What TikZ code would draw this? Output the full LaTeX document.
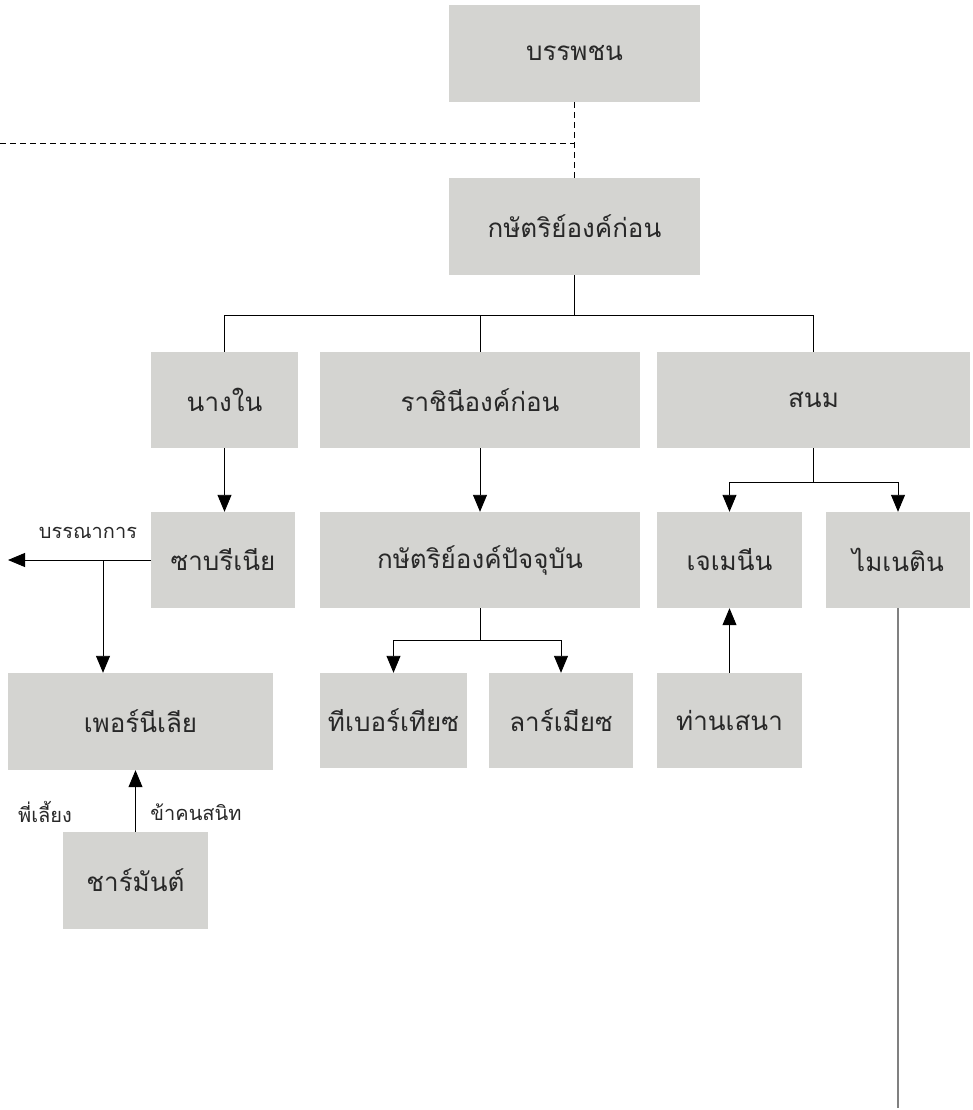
\documentclass[tikz,border=0pt]{standalone}
\usepackage{fontspec}
\setmainfont[Script=Thai]{Loma}
\usetikzlibrary{arrows.meta}
\definecolor{boxfill}{RGB}{212,212,209}
\definecolor{longline}{RGB}{128,128,128}
\definecolor{txt}{RGB}{40,40,40}
\begin{document}
\begin{tikzpicture}[x=1pt,y=1pt,
  box/.style={fill=boxfill,draw=none,inner sep=0pt,text=txt,font=\fontsize{26}{30}\selectfont},
  conn/.style={draw=black,line width=0.9pt},
  arr/.style={conn,-{Triangle[width=14pt,length=17pt]}},
  lbl/.style={inner sep=0pt,text=txt,font=\fontsize{20}{24}\selectfont}]
\useasboundingbox (0,0) rectangle (972,-1110);
% boxes
\node[box,minimum width=251pt,minimum height=97pt] (anc) at (574.5,-53.5) {บรรพชน};
\node[box,minimum width=251pt,minimum height=97pt] (kp) at (574.5,-226.5) {กษัตริย์องค์ก่อน};
\node[box,minimum width=147pt,minimum height=96pt] (nn) at (224.5,-400) {นางใน};
\node[box,minimum width=320pt,minimum height=96pt] (rq) at (480,-400) {ราชินีองค์ก่อน};
\node[box,minimum width=313pt,minimum height=96pt] (sn) at (813.5,-400) {สนม};
\node[box,minimum width=144pt,minimum height=96pt] (sb) at (223,-560) {ซาบรีเนีย};
\node[box,minimum width=320pt,minimum height=96pt] (kc) at (480,-560) {กษัตริย์องค์ปัจจุบัน};
\node[box,minimum width=145pt,minimum height=96pt] (jm) at (729.5,-560) {เจเมนีน};
\node[box,minimum width=144pt,minimum height=96pt] (mn) at (898,-560) {ไมเนติน};
\node[box,minimum width=265pt,minimum height=97pt] (pn) at (140.5,-721.5) {เพอร์นีเลีย};
\node[box,minimum width=147pt,minimum height=95pt] (tb) at (393.5,-720.5) {ทีเบอร์เทียซ};
\node[box,minimum width=144pt,minimum height=95pt] (lm) at (561,-720.5) {ลาร์เมียซ};
\node[box,minimum width=145pt,minimum height=95pt] (ts) at (729.5,-720.5) {ท่านเสนา};
\node[box,minimum width=145pt,minimum height=97pt] (cm) at (135.5,-880.5) {ชาร์มันต์};
% labels
\node[lbl] (ltribute) at (88,-533) {บรรณาการ};
\node[lbl] (lnurse) at (45,-812) {พี่เลี้ยง};
\node[lbl] (lservant) at (196,-812) {ข้าคนสนิท};
% dashed
\coordinate (dleft) at (0,-143);
\draw[conn,line width=0.7pt,dash pattern=on 6pt off 4pt] (anc.south) -- (kp.north);
\draw[conn,line width=0.7pt,dash pattern=on 6pt off 4pt] (dleft) -- (dleft -| anc.south);
% tree from previous king
\draw[conn] (kp.south) -- ++(0,-40) coordinate (j1);
\draw[conn] (nn.north) |- (j1) -| (sn.north);
\draw[conn] (rq.north) -- (rq.north |- j1);
% arrows
\draw[arr] (nn.south) -- (nn.south |- sb.north);
\draw[arr] (rq.south) -- (kc.north);
\draw[conn] (sn.south) -- ++(0,-34) coordinate (j2);
\draw[arr] (j2) -| (jm.north);
\draw[arr] (j2) -| (mn.north);
\draw[conn] (kc.south) -- ++(0,-32) coordinate (j3);
\draw[arr] (j3) -| (tb.north);
\draw[arr] (j3) -| (lm.north);
\draw[arr] (ts.north) -- (jm.south);
\coordinate (tribute) at (8,-560);
\draw[arr] (sb.west) -- (tribute);
\coordinate (j4) at (103,-560);
\draw[arr] (j4) -- (j4 |- pn.north);
\draw[arr] (cm.north) -- (cm.north |- pn.south);
\coordinate (mnend) at (898,-1108);
\draw[draw=longline,line width=1.5pt] (mn.south) -- (mnend);
\end{tikzpicture}
\end{document}
